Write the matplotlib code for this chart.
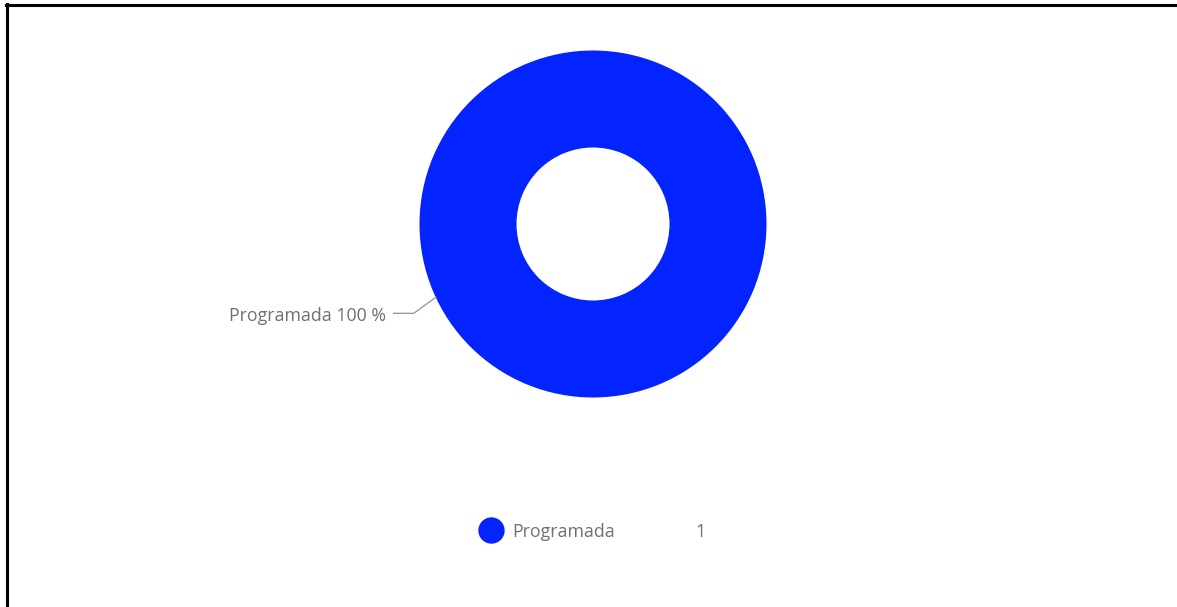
import numpy as np
import matplotlib
matplotlib.use("Agg")
import matplotlib.pyplot as plt
from matplotlib.lines import Line2D

# Data
categories = ["Programada"]
counts = [1]
colors = ["#0323FF"]

W, H = 1177, 607
fig = plt.figure(figsize=(W / 100, H / 100), dpi=100)
ax = fig.add_axes([0, 0, 1, 1])
ax.set_xlim(0, W)
ax.set_ylim(0, H)
ax.set_aspect("equal")
ax.axis("off")

# Frame lines (left and top)
fig.add_artist(Line2D([7 / W, 7 / W], [0, 1 - 4 / H], color="black", lw=2.2,
                      transform=fig.transFigure))
fig.add_artist(Line2D([6 / W, 1], [1 - 5 / H, 1 - 5 / H], color="black", lw=2.2,
                      transform=fig.transFigure))

# Donut
cx, cy = 593, H - 224
R_out, R_in = 173.5, 76.5
start = 25.0
wedges, _ = ax.pie(counts, colors=colors, radius=R_out, center=(cx, cy),
                   startangle=start, counterclock=True, frame=True,
                   wedgeprops=dict(width=R_out - R_in, linewidth=0))
ax.set_xlim(0, W)
ax.set_ylim(0, H)
ax.axis("off")

total = sum(counts)
font = "Open Sans"
fs = 12.8
text_color = "#707070"
for w, cat, c in zip(wedges, categories, counts):
    mid = np.deg2rad((w.theta1 + w.theta2) / 2)
    x0 = cx + R_out * np.cos(mid)
    y0 = cy + R_out * np.sin(mid)
    elbow = (x0 - 22, y0 - 16)
    end = (elbow[0] - 20, elbow[1])
    ax.plot([x0, elbow[0], end[0]], [y0, elbow[1], end[1]], color="#9a9a9a", lw=1.0)
    ax.text(end[0] - 8, end[1] - 3, f"{cat} {c / total * 100:.0f} %", ha="right",
            va="center", fontsize=fs, color=text_color, family=font)

# Legend
ly = H - 530
for i, (cat, c, col) in enumerate(zip(categories, counts, colors)):
    ax.scatter([491], [ly], s=360, color=col, linewidths=0)
    ax.text(512, ly - 2, cat, ha="left", va="center", fontsize=fs,
            color=text_color, family=font)
    ax.text(705, ly - 2, str(c), ha="right", va="center", fontsize=fs,
            color=text_color, family=font)

fig.savefig("out.png", dpi=100, facecolor="white")
